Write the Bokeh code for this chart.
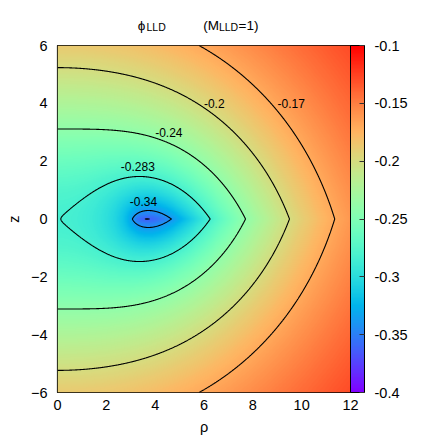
import numpy as np
from bokeh.plotting import figure
from bokeh.layouts import column
from bokeh.models import ColorBar, LinearColorMapper, FixedTicker, Label, Range1d
from bokeh.core.properties import value
from bokeh.embed import file_html
from bokeh.resources import INLINE

# ---- data / model parameters ----
M_LLD = 1.0                 # mass parameter shown in the title
a_inner = 3.0               # inner edge of the disk (minimum at 1.2247*a ~ 3.67)
mass_scale = 8.0 / (3.0 * np.pi)   # normalisation giving phi(0,0) = -0.283
rho_min, rho_max = 0.0, 12.0
z_min, z_max = -6.0, 6.0
contour_levels = [-0.3625, -0.34, -0.283, -0.24, -0.2, -0.17]
label_levels = ["-0.34", "-0.283", "-0.24", "-0.2", "-0.17"]
label_rho = [3.52, 3.29, 4.56, 6.42, 9.57]
label_z = [0.60, 1.81, 2.98, 4.00, 4.00]
cbar_ticks = [-0.4, -0.35, -0.3, -0.25, -0.2, -0.15, -0.1]
cbar_labels = ["-0.4", "-0.35", "-0.3", "-0.25", "-0.2", "-0.15", "-0.1"]
x_ticks = [0, 2, 4, 6, 8, 10, 12]
y_ticks = [-6, -4, -2, 0, 2, 4, 6]
c_low, c_high = -0.4, -0.1
title_texts = ["ϕ", "LLD", "(M", "LLD", "=1)"]


def phi_mm(rho, z, a, M):
    """Potential of the first Morgan-Morgan disk (oblate spheroidal coords)."""
    z = np.abs(z)
    s = (rho ** 2 + z ** 2) / a ** 2 - 1.0
    u2 = 0.5 * (s + np.sqrt(s ** 2 + 4.0 * z ** 2 / a ** 2))
    u = np.sqrt(np.maximum(u2, 0.0))
    with np.errstate(divide="ignore", invalid="ignore"):
        v = np.where(u > 1e-12, z / (a * np.where(u > 1e-12, u, 1.0)),
                     np.sqrt(np.clip(1.0 - rho ** 2 / a ** 2, 0.0, 1.0)))
    acu = np.arctan2(1.0, u)
    q2 = 0.5 * ((3.0 * u ** 2 + 1.0) * acu - 3.0 * u)
    return -(M / a) * (acu + 0.5 * (3.0 * v ** 2 - 1.0) * q2)


def phi_lld(rho, z, a, M):
    """Kelvin inversion of the Morgan-Morgan disk (disk with an inner hole)."""
    r2 = rho ** 2 + z ** 2
    safe = np.where(r2 > 0, r2, 1.0)
    rs = a ** 2 * rho / safe
    zs = a ** 2 * z / safe
    val = (a / np.sqrt(safe)) * phi_mm(rs, zs, a, M)
    return np.where(r2 > 0, val, -M / a)


nx, ny = 601, 601
rho = np.linspace(rho_min, rho_max, nx)
zz = np.linspace(z_min, z_max, ny)
R, Z = np.meshgrid(rho, zz)
PHI = phi_lld(R, Z, a_inner, mass_scale * M_LLD)


# gnuplot "rainbow" (rgbformulae 33,13,10)
def rainbow(n):
    cols = []
    for i in range(n):
        x = i / (n - 1)
        r = min(max(abs(2 * x - 0.5), 0), 1)
        g = min(max(np.sin(np.pi * x), 0), 1)
        b = min(max(np.cos(np.pi * x / 2), 0), 1)
        cols.append("#%02x%02x%02x" % (int(round(r * 255)), int(round(g * 255)), int(round(b * 255))))
    return cols


palette = rainbow(256)
mapper = LinearColorMapper(palette=palette, low=c_low, high=c_high)

FONT = "Liberation Sans"
FW, FH = 293, 347
LEFT, RIGHT = 57, 91
TITLE_H = 35

# ---- title strip: own small figure, x in rho units (frame aligned with main), y in pixels ----
t = figure(frame_width=FW, frame_height=TITLE_H, x_range=Range1d(rho_min, rho_max),
           y_range=Range1d(TITLE_H, 0), output_backend="svg", toolbar_location=None,
           min_border_left=LEFT, min_border_right=RIGHT, min_border_top=0, min_border_bottom=0)
t.axis.visible = False
t.grid.visible = False
t.outline_line_color = None
t.background_fill_color = None
t.border_fill_color = None
title_x = [3.289, 3.645, 5.967, 6.610, 7.413]
title_py = [25.4, 26.9, 25.4, 26.9, 25.4]
title_fs = ["13.5px", "10.5px", "13.5px", "10.5px", "13.5px"]
for txt, xx, yy, fs in zip(title_texts, title_x, title_py, title_fs):
    t.text(x=[xx], y=[yy], text=[txt], text_align="left", text_baseline="alphabetic",
           text_font=value(FONT), text_font_size=fs, text_color="black")

# ---- main plot ----
p = figure(frame_width=FW, frame_height=FH,
           x_range=Range1d(rho_min, rho_max), y_range=Range1d(z_min, z_max),
           output_backend="svg", toolbar_location=None,
           min_border_left=LEFT, min_border_top=10, min_border_right=RIGHT, min_border_bottom=49)
p.background_fill_color = "white"
p.border_fill_color = None
p.outline_line_color = "black"
p.outline_line_width = 1.2
p.xgrid.visible = False
p.ygrid.visible = False

p.image(image=[PHI], x=rho_min, y=z_min, dw=rho_max - rho_min, dh=z_max - z_min,
        color_mapper=mapper)
p.contour(x=rho, y=zz, z=PHI, levels=contour_levels, line_color="black", line_width=1.1)

for txt, xr, yz in zip(label_levels, label_rho, label_z):
    p.add_layout(Label(x=xr, y=yz, text=txt, text_align="center", text_baseline="middle",
                       text_font=FONT, text_font_size="12px", text_color="black"))

for ax in (p.xaxis[0], p.yaxis[0]):
    ax.major_tick_line_color = None
    ax.minor_tick_line_color = None
    ax.major_tick_out = 0
    ax.major_tick_in = 0
    ax.minor_tick_out = 0
    ax.minor_tick_in = 0
    ax.axis_line_color = None
    ax.major_label_text_font = FONT
    ax.major_label_text_font_size = "14.5px"
    ax.major_label_text_color = "black"
    ax.axis_label_text_font = FONT
    ax.axis_label_text_font_size = "14.5px"
    ax.axis_label_text_font_style = "normal"
    ax.axis_label_text_color = "black"

p.xaxis.ticker = FixedTicker(ticks=x_ticks)
p.yaxis.ticker = FixedTicker(ticks=y_ticks)
p.xaxis.axis_label = "ρ"
p.yaxis.axis_label = "z"
p.xaxis.major_label_standoff = 7
p.yaxis.major_label_standoff = 10
p.xaxis.axis_label_standoff = 6
p.yaxis.axis_label_standoff = 6

cb = ColorBar(color_mapper=mapper, width=14, height=FH, location=(0, 0),
              padding=0, margin=7,
              ticker=FixedTicker(ticks=cbar_ticks),
              major_label_overrides={tk: lb for tk, lb in zip(cbar_ticks, cbar_labels)},
              major_label_text_font=FONT, major_label_text_font_size="14.5px",
              major_label_text_color="black", label_standoff=10,
              bar_line_color="black", bar_line_width=1,
              major_tick_line_color="#333333", major_tick_in=5, major_tick_out=0,
              minor_tick_line_color=None,
              border_line_color=None, background_fill_color=None)
p.add_layout(cb, "right")

layout = column(t, p, spacing=0)
open("out.html", "w").write(file_html(layout, INLINE))
